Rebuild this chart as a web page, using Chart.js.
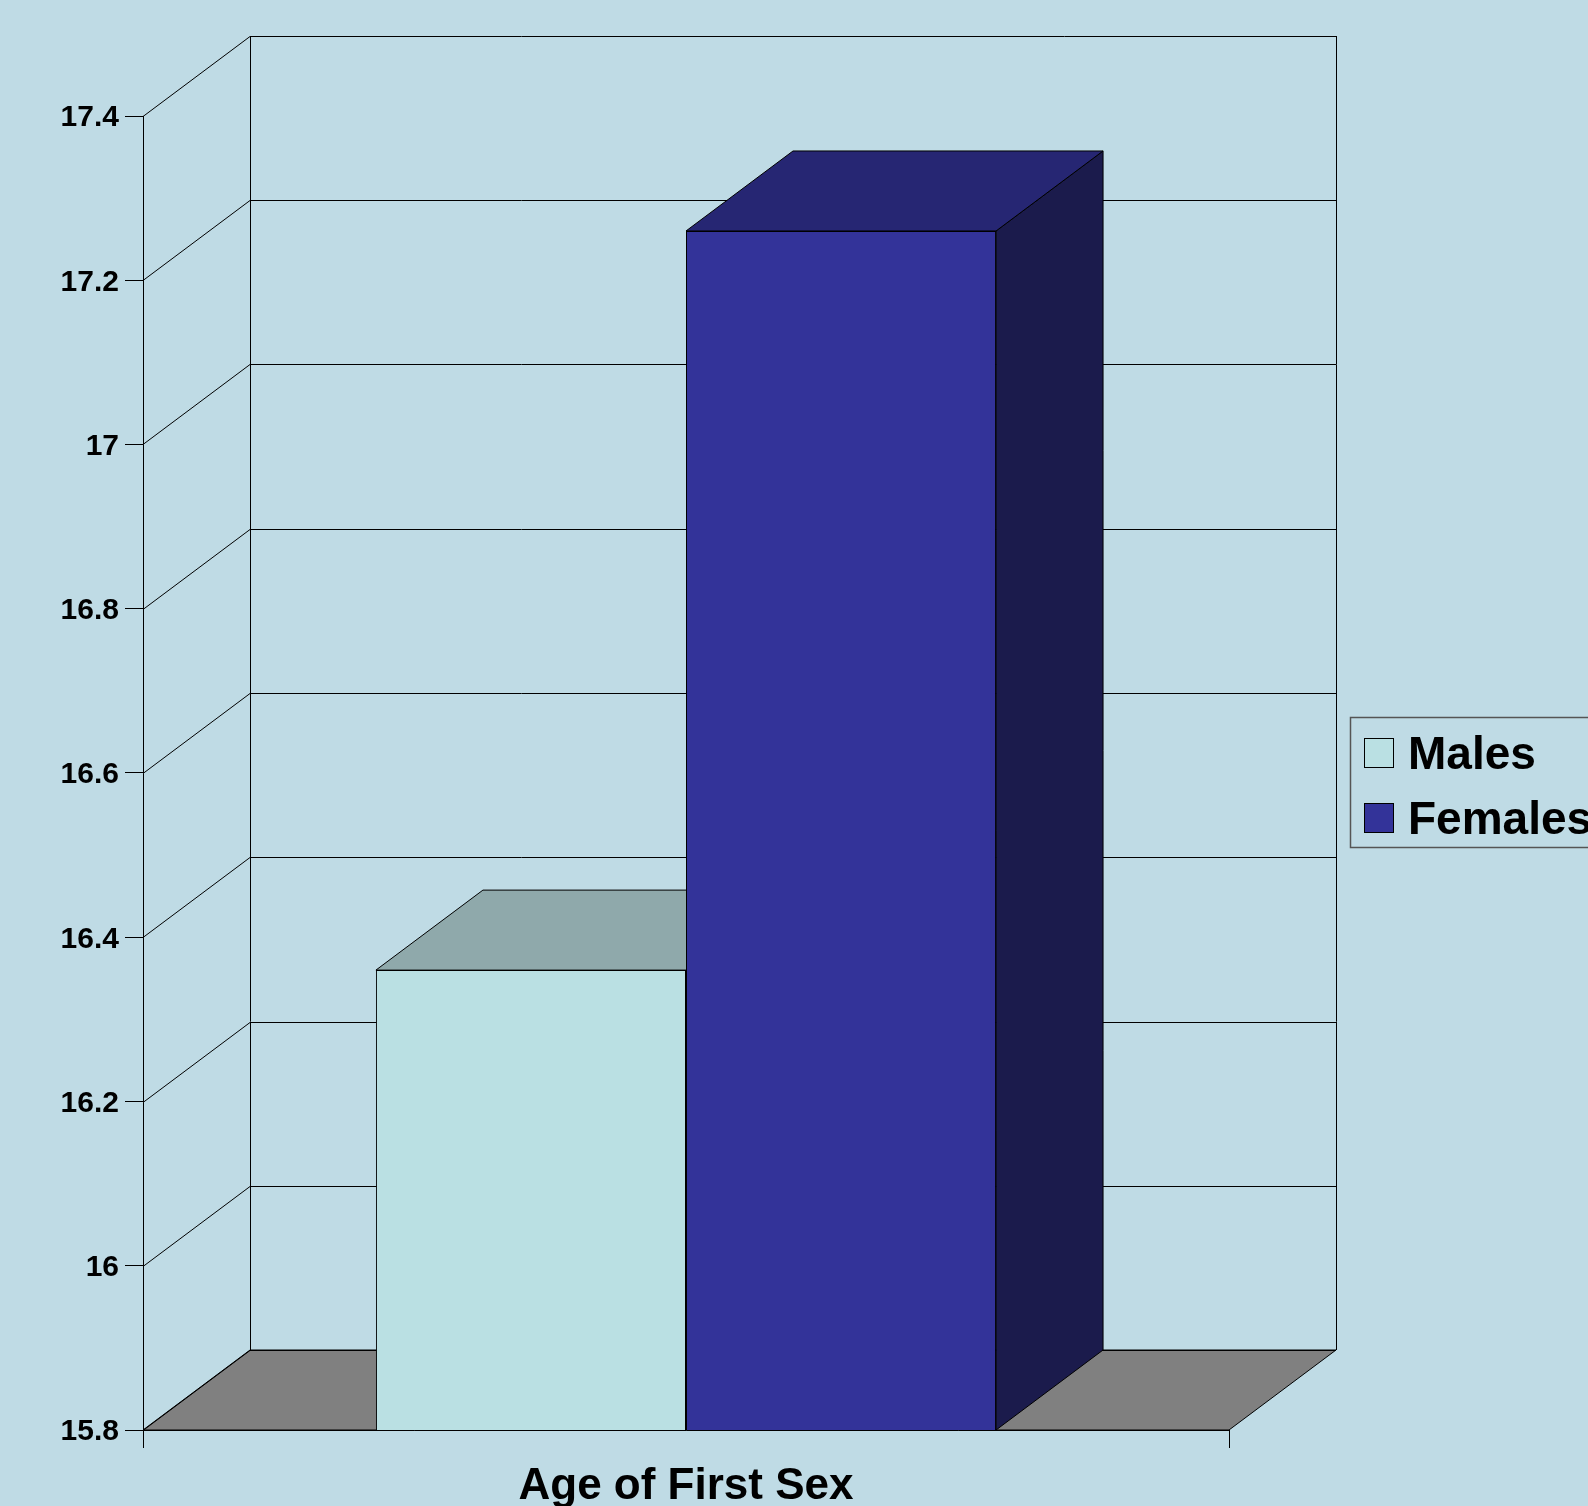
<!DOCTYPE html>
<html>
<head>
<meta charset="utf-8">
<script src="https://cdn.jsdelivr.net/npm/chart.js@4"></script>
<style>
  html, body { margin: 0; padding: 0; background: #BFDBE5; overflow: hidden; }
  canvas { display: block; }
</style>
</head>
<body>
<canvas id="c" width="1588" height="1506"></canvas>
<script>
// ---- data ----
const categories = ["Age of First Sex"];
const seriesNames = ["Males", "Females"];
const malesValues = [16.36];
const femalesValues = [17.26];
const yTickValues = [15.8, 16.0, 16.2, 16.4, 16.6, 16.8, 17.0, 17.2, 17.4];

// ---- styles ----
const BG = "#BFDBE5";
const FONT = '"Liberation Sans", Arial, sans-serif';
const DEPTH_X = 107, DEPTH_Y = 80;
const faceColors = [
  { front: "#BAE0E3", top: "#8FA9AB", side: "#7E9A9C" },
  { front: "#333399", top: "#262673", side: "#1B1B4C" }
];

const threeD = {
  id: "threeD",
  beforeDraw(chart) {
    const ctx = chart.ctx;
    ctx.save();
    ctx.fillStyle = BG;
    ctx.fillRect(0, 0, chart.width, chart.height);
    ctx.restore();
  },
  beforeDatasetsDraw(chart) {
    const ctx = chart.ctx;
    const ca = chart.chartArea;
    const y = chart.scales.y;
    const L = ca.left, R = ca.right, B = ca.bottom;
    ctx.save();
    ctx.lineWidth = 1;
    ctx.strokeStyle = "#000";
    // floor
    ctx.beginPath();
    ctx.moveTo(L, B);
    ctx.lineTo(L + DEPTH_X, B - DEPTH_Y);
    ctx.lineTo(R + DEPTH_X, B - DEPTH_Y);
    ctx.lineTo(R, B);
    ctx.closePath();
    ctx.fillStyle = "#808080";
    ctx.fill();
    ctx.stroke();
    // back wall + left wall grid
    const topBack = y.getPixelForValue(yTickValues[yTickValues.length - 1]) - DEPTH_Y;
    ctx.beginPath();
    ctx.moveTo(L + DEPTH_X + 0.5, topBack);
    ctx.lineTo(L + DEPTH_X + 0.5, B - DEPTH_Y);
    ctx.moveTo(R + DEPTH_X + 0.5, topBack);
    ctx.lineTo(R + DEPTH_X + 0.5, B - DEPTH_Y);
    yTickValues.forEach(v => {
      const py = Math.round(y.getPixelForValue(v)) + 0.5;
      ctx.moveTo(L + DEPTH_X, py - DEPTH_Y);
      ctx.lineTo(R + DEPTH_X, py - DEPTH_Y);
      ctx.moveTo(L, py);
      ctx.lineTo(L + DEPTH_X, py - DEPTH_Y);
    });
    ctx.stroke();
    // bar depth faces
    chart.data.datasets.forEach((ds, di) => {
      const meta = chart.getDatasetMeta(di);
      meta.data.forEach(bar => {
        const p = bar.getProps(["x", "y", "base", "width"], true);
        const l = p.x - p.width / 2, r = p.x + p.width / 2;
        const t = Math.max(p.y, ca.top - DEPTH_Y);
        const b = Math.min(p.base, B);
        // side
        ctx.beginPath();
        ctx.moveTo(r, t);
        ctx.lineTo(r + DEPTH_X, t - DEPTH_Y);
        ctx.lineTo(r + DEPTH_X, b - DEPTH_Y);
        ctx.lineTo(r, b);
        ctx.closePath();
        ctx.fillStyle = faceColors[di].side;
        ctx.fill();
        ctx.stroke();
        // top
        ctx.beginPath();
        ctx.moveTo(l, t);
        ctx.lineTo(l + DEPTH_X, t - DEPTH_Y);
        ctx.lineTo(r + DEPTH_X, t - DEPTH_Y);
        ctx.lineTo(r, t);
        ctx.closePath();
        ctx.fillStyle = faceColors[di].top;
        ctx.fill();
        ctx.stroke();
      });
    });
    ctx.restore();
  },
  afterDraw(chart) {
    // legend
    const ctx = chart.ctx;
    ctx.save();
    ctx.strokeStyle = "#555";
    ctx.lineWidth = 1.5;
    ctx.strokeRect(1350.5, 717.5, 400, 130);
    ctx.font = "bold 46px " + FONT;
    ctx.textBaseline = "alphabetic";
    ctx.textAlign = "left";
    chart.data.datasets.forEach((ds, i) => {
      const sy = 738 + i * 65;
      ctx.fillStyle = ds.backgroundColor;
      ctx.fillRect(1364, sy, 30, 30);
      ctx.strokeStyle = "#000";
      ctx.lineWidth = 1;
      ctx.strokeRect(1364.5, sy + 0.5, 29, 29);
      ctx.fillStyle = "#000";
      ctx.fillText(ds.label, 1408, sy + 31);
    });
    ctx.restore();
  }
};

new Chart(document.getElementById("c"), {
  type: "bar",
  data: {
    labels: categories,
    datasets: [
      { label: seriesNames[0], data: malesValues, backgroundColor: faceColors[0].front, borderColor: "#000", borderWidth: 1 },
      { label: seriesNames[1], data: femalesValues, backgroundColor: faceColors[1].front, borderColor: "#000", borderWidth: 1 }
    ]
  },
  options: {
    responsive: false,
    animation: false,
    devicePixelRatio: 1,
    layout: { padding: { left: 0, top: 116, right: 359, bottom: 0 } },
    plugins: { legend: { display: false }, tooltip: { enabled: false } },
    datasets: { bar: { categoryPercentage: 0.571, barPercentage: 1.0 } },
    scales: {
      x: {
        offset: true,
        grid: { display: true, drawOnChartArea: false, drawTicks: true, tickLength: 18, color: "#000", offset: true },
        border: { display: true, color: "#000", width: 1 },
        ticks: { color: "#000", font: { family: FONT, size: 44, weight: "bold" }, padding: 12, maxRotation: 0 },
        afterFit: s => { s.height = 76; }
      },
      y: {
        min: 15.8, max: 17.4,
        afterBuildTicks: s => { s.ticks = yTickValues.map(v => ({ value: v })); },
        grid: { display: true, drawOnChartArea: false, drawTicks: true, tickLength: 18, color: "#000" },
        border: { display: true, color: "#000", width: 1 },
        ticks: { color: "#000", font: { family: FONT, size: 30, weight: "bold" }, padding: 6, labelOffset: 2,
                 callback: v => String(Math.round(v * 10) / 10) },
        afterFit: s => { s.width = 143; }
      }
    }
  },
  plugins: [threeD]
});
</script>
</body>
</html>
